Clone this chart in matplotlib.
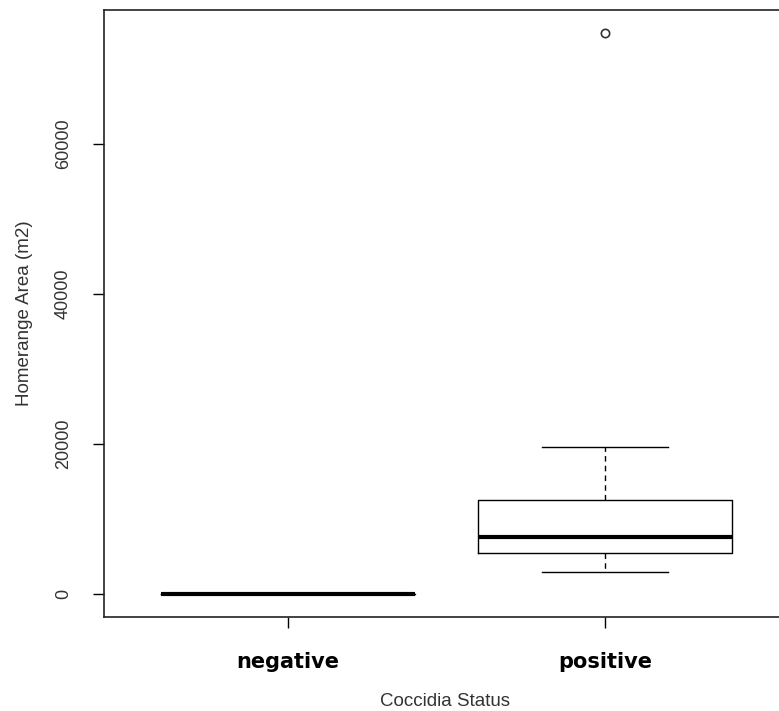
import matplotlib.pyplot as plt

# data
groups = ['negative', 'positive']
med = [0, 7600]
q1 = [0, 5470]
q3 = [0, 12530]
whislo = [0, 2930]
whishi = [0, 19600]
fliers = [[], [74800]]

plt.rcParams['font.family'] = ['Liberation Sans', 'DejaVu Sans']

fig = plt.figure(figsize=(7.79, 7.11), dpi=100)
# axes runs a bit past the right edge, like the cropped original
ax = fig.add_axes([104/779, 1 - 617/711, 685/779, 607/711])

stats = []
for i in range(len(groups)):
    stats.append({'med': med[i], 'q1': q1[i], 'q3': q3[i],
                  'whislo': whislo[i], 'whishi': whishi[i],
                  'fliers': fliers[i], 'label': groups[i]})

ax.bxp(stats, positions=[1, 2], widths=0.8,
       boxprops=dict(color='black', linewidth=1),
       medianprops=dict(color='black', linewidth=3),
       whiskerprops=dict(color='black', linewidth=1, linestyle=(0, (4, 3))),
       capprops=dict(color='black', linewidth=1),
       capwidths=0.4,
       flierprops=dict(marker='o', markerfacecolor='none', markeredgecolor='#333333',
                       markersize=6, markeredgewidth=1.2))

ax.set_xlim(0.42, 2.58)
ax.set_ylim(-3067, 77867)
ax.set_yticks([0, 20000, 40000, 60000])
ax.set_yticklabels(['0', '20000', '40000', '60000'], rotation=90, va='center')
ax.set_xticks([1, 2])
ax.set_xticklabels(groups, fontweight='heavy', fontsize=15, family='DejaVu Sans')

ax.tick_params(axis='y', length=8, width=1, labelsize=13, pad=15, labelcolor='#333333')
ax.tick_params(axis='x', length=8, width=1, pad=17)

ax.spines['right'].set_visible(False)
for s in ['left', 'top', 'bottom']:
    ax.spines[s].set_linewidth(1.2)
    ax.spines[s].set_color('#222222')

ax.set_ylabel('Homerange Area (m2)', fontsize=13.5, color='#333333')
ax.yaxis.set_label_coords(-0.104, 0.5)
ax.set_xlabel('Coccidia Status', fontsize=13.5, color='#333333')
ax.xaxis.set_label_coords(0.498, -0.125)

plt.savefig('out.png', dpi=100)
